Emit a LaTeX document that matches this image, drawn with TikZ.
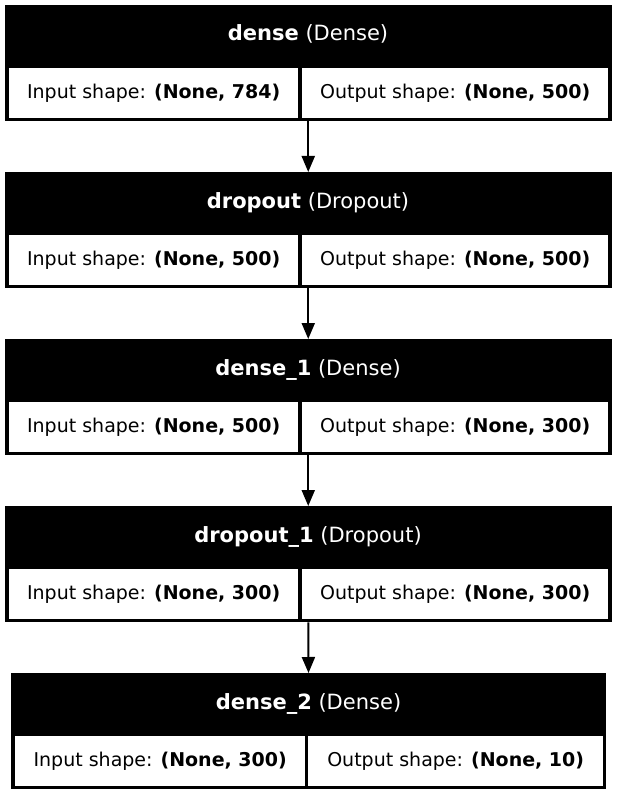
\documentclass[tikz,border=0pt]{standalone}
\usepackage{fontspec}
\setmainfont{DejaVu Sans}
\usetikzlibrary{arrows.meta}
\begin{document}
\begin{tikzpicture}[x=1pt,y=1pt,yscale=-1,
    layerbox/.style={fill=black, inner sep=0pt, minimum height=116pt, anchor=north},
    head/.style={text=white, inner sep=0pt, anchor=base, font=\fontsize{21}{25}\selectfont},
    cell/.style={fill=white, inner sep=0pt, minimum height=50pt, anchor=north west, font=\fontsize{19}{22}\selectfont},
    link/.style={-{Triangle[length=16pt,width=13pt]}, line width=2pt}]
    \useasboundingbox (0,0) rectangle (617,794);
    % dense
    \node[layerbox, minimum width=606.5pt] (dense) at (308.25,5) {};
    \node[head] (dense-head) at (308,41) {\textbf{dense} (Dense)};
    \node[cell, minimum width=289pt] (dense-in) at (9,68) {Input shape: \textbf{(None, 784)}};
    \node[cell, minimum width=306pt] (dense-out) at (302,68) {Output shape: \textbf{(None, 500)}};
    % dropout
    \node[layerbox, minimum width=606.5pt] (dropout) at (308.25,172) {};
    \node[head] (dropout-head) at (308,208) {\textbf{dropout} (Dropout)};
    \node[cell, minimum width=289pt] (dropout-in) at (9,235) {Input shape: \textbf{(None, 500)}};
    \node[cell, minimum width=306pt] (dropout-out) at (302,235) {Output shape: \textbf{(None, 500)}};
    % dense_1
    \node[layerbox, minimum width=606.5pt] (dense1) at (308.25,339) {};
    \node[head] (dense1-head) at (308,375) {\textbf{dense\_1} (Dense)};
    \node[cell, minimum width=289pt] (dense1-in) at (9,402) {Input shape: \textbf{(None, 500)}};
    \node[cell, minimum width=306pt] (dense1-out) at (302,402) {Output shape: \textbf{(None, 300)}};
    % dropout_1
    \node[layerbox, minimum width=606.5pt] (dropout1) at (308.25,506) {};
    \node[head] (dropout1-head) at (308,542) {\textbf{dropout\_1} (Dropout)};
    \node[cell, minimum width=289pt] (dropout1-in) at (9,569) {Input shape: \textbf{(None, 300)}};
    \node[cell, minimum width=306pt] (dropout1-out) at (302,569) {Output shape: \textbf{(None, 300)}};
    % dense_2
    \node[layerbox, minimum width=595pt] (dense2) at (308.5,673) {};
    \node[head] (dense2-head) at (308.5,709) {\textbf{dense\_2} (Dense)};
    \node[cell, minimum width=290pt] (dense2-in) at (15,736) {Input shape: \textbf{(None, 300)}};
    \node[cell, minimum width=295pt] (dense2-out) at (308,736) {Output shape: \textbf{(None, 10)}};
    % connections
    \draw[link] (dense.south) -- (dropout.north);
    \draw[link] (dropout.south) -- (dense1.north);
    \draw[link] (dense1.south) -- (dropout1.north);
    \draw[link] (dropout1.south) -- (dense2.north);
\end{tikzpicture}
\end{document}
